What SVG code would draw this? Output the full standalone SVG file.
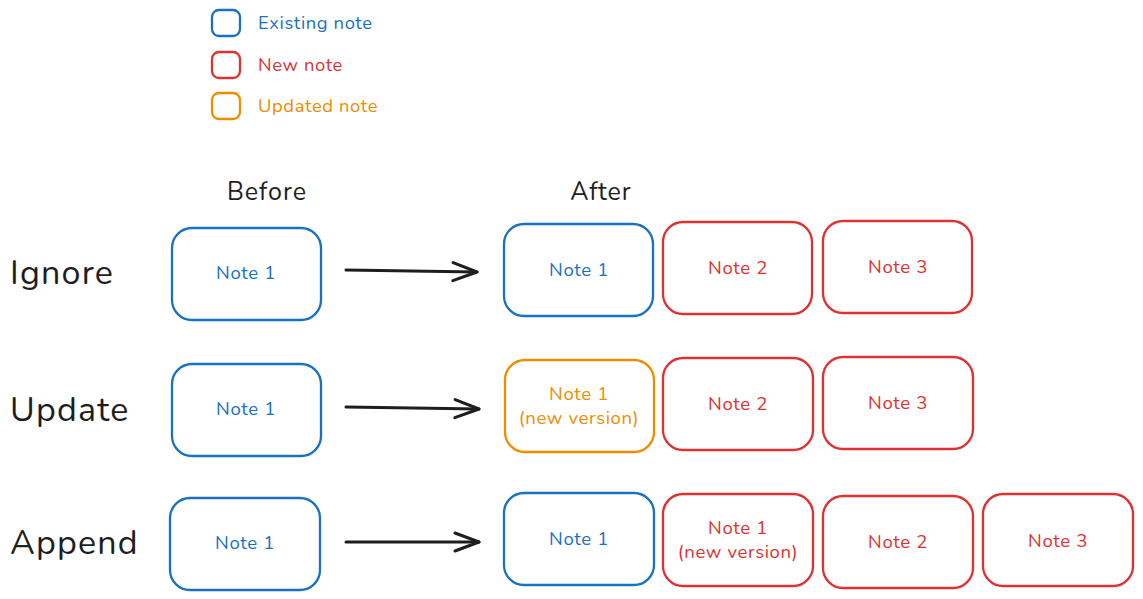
<svg xmlns="http://www.w3.org/2000/svg" width="1143" height="599" viewBox="0 0 1143 599">
<defs>
<style>
text{font-family:"Nunito","Noto Sans","Open Sans",sans-serif}
.b{fill:none;stroke:#1971c2;stroke-width:2.3}
.r{fill:none;stroke:#e03131;stroke-width:2.3}
.o{fill:none;stroke:#f08c00;stroke-width:2.3}
.tb{fill:#1971c2;font-size:18.6px;letter-spacing:0.6px;text-anchor:middle}
.tr{fill:#e03131;font-size:18.6px;letter-spacing:0.6px;text-anchor:middle}
.to{fill:#f08c00;font-size:18.6px;letter-spacing:0.6px;text-anchor:middle}
.lg{font-size:18.4px;letter-spacing:0.6px}
.hd{fill:#1e1e1e;font-size:25px;letter-spacing:1px;text-anchor:middle}
.row{fill:#1e1e1e;font-size:34px;letter-spacing:1.2px}
.ar{fill:none;stroke:#1e1e1e;stroke-width:3;stroke-linecap:round}
</style>
<marker id="ah" viewBox="0 0 28 22" refX="26" refY="11" markerWidth="28" markerHeight="22" markerUnits="userSpaceOnUse" orient="auto">
<path d="M2,2 L26,11 L2,20" fill="none" stroke="#1e1e1e" stroke-width="3" stroke-linecap="round" stroke-linejoin="round"/>
</marker>
</defs>
<rect width="1143" height="599" fill="#fff"/>
<g id="legend">
<rect class="b" x="212" y="10" width="28" height="26" rx="7"/>
<text class="lg" x="258" y="29" fill="#1971c2">Existing note</text>
<rect class="r" x="212" y="52" width="28" height="26" rx="7"/>
<text class="lg" x="258" y="71" fill="#e03131">New note</text>
<rect class="o" x="212" y="93" width="28" height="26" rx="7"/>
<text class="lg" x="258" y="112" fill="#f08c00">Updated note</text>
</g>
<g id="headers">
<text class="hd" x="267" y="200">Before</text>
<text class="hd" x="601" y="200">After</text>
</g>
<g id="rowlabels">
<text class="row" x="10" y="284">Ignore</text>
<text class="row" x="10" y="421">Update</text>
<text class="row" x="10" y="554">Append</text>
</g>
<g id="connectors">
<path class="ar" d="M346,270 L477,272" marker-end="url(#ah)"/>
<path class="ar" d="M346,407 L479,409" marker-end="url(#ah)"/>
<path class="ar" d="M346,542 L479,542" marker-end="url(#ah)"/>
</g>
<g id="r1-before"><rect class="b" x="172" y="228" width="149" height="92" rx="20"/><text class="tb" x="246" y="279">Note 1</text></g>
<g id="r1-a1"><rect class="b" x="504" y="224" width="149" height="92" rx="20"/><text class="tb" x="579" y="276">Note 1</text></g>
<g id="r1-a2"><rect class="r" x="663" y="222" width="149" height="92" rx="20"/><text class="tr" x="738" y="274">Note 2</text></g>
<g id="r1-a3"><rect class="r" x="823" y="221" width="149" height="92" rx="20"/><text class="tr" x="898" y="273">Note 3</text></g>
<g id="r2-before"><rect class="b" x="172" y="364" width="149" height="92" rx="20"/><text class="tb" x="246" y="415">Note 1</text></g>
<g id="r2-a1"><rect class="o" x="505" y="360" width="149" height="92" rx="20"/><text class="to" x="579" y="400">Note 1</text><text class="to" x="579" y="424">(new version)</text></g>
<g id="r2-a2"><rect class="r" x="663" y="358" width="150" height="92" rx="20"/><text class="tr" x="738" y="410">Note 2</text></g>
<g id="r2-a3"><rect class="r" x="823" y="357" width="150" height="92" rx="20"/><text class="tr" x="898" y="409">Note 3</text></g>
<g id="r3-before"><rect class="b" x="170" y="498" width="150" height="92" rx="20"/><text class="tb" x="245" y="549">Note 1</text></g>
<g id="r3-a1"><rect class="b" x="504" y="493" width="150" height="92" rx="20"/><text class="tb" x="579" y="545">Note 1</text></g>
<g id="r3-a2"><rect class="r" x="663" y="494" width="150" height="92" rx="20"/><text class="tr" x="738" y="534">Note 1</text><text class="tr" x="738" y="558">(new version)</text></g>
<g id="r3-a3"><rect class="r" x="823" y="496" width="150" height="92" rx="20"/><text class="tr" x="898" y="548">Note 2</text></g>
<g id="r3-a4"><rect class="r" x="983" y="494" width="150" height="92" rx="20"/><text class="tr" x="1058" y="547">Note 3</text></g>
</svg>
